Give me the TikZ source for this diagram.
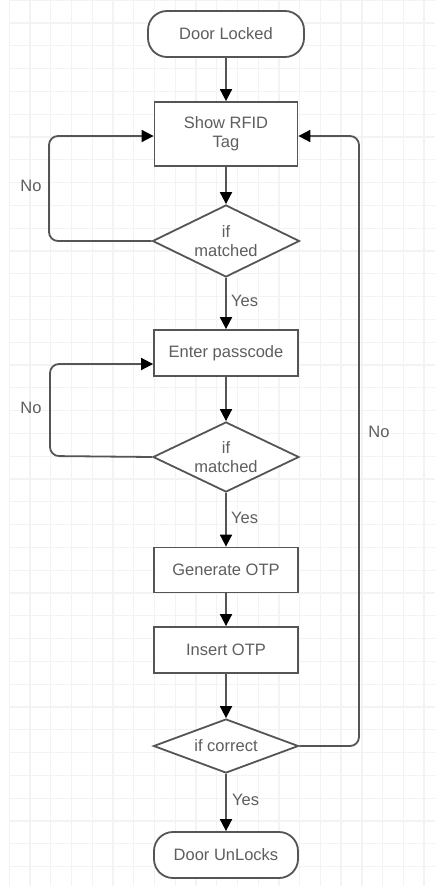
\documentclass[tikz,border=0pt]{standalone}
\usepackage{fontspec}
\setmainfont{Liberation Sans}
\usetikzlibrary{shapes.geometric,arrows.meta}
\definecolor{gridc}{HTML}{F3F3F3}
\definecolor{linec}{HTML}{555555}
\definecolor{textc}{HTML}{5E5E5E}
\tikzset{
  gridline/.style={draw=gridc, line width=1.3pt},
  base/.style={draw=linec, line width=1.8pt, fill=white, text=textc, inner sep=0pt,
    font=\fontsize{16.5}{19}\selectfont, align=center},
  terminal/.style={base, rectangle, rounded corners=19pt, minimum width=150pt, minimum height=46pt},
  process/.style={base, rectangle, minimum width=144pt, minimum height=46pt},
  decision/.style={base, diamond, shape aspect=2.5},
  conn/.style={draw=linec, line width=1.8pt, rounded corners=9pt,
    -{Triangle[length=12pt,width=12pt,color=black]}},
  lbl/.style={text=textc, font=\fontsize{16.5}{19}\selectfont, inner sep=0pt}
}
\begin{document}
\begin{tikzpicture}[x=1pt,y=-1pt]
\useasboundingbox (0,0) rectangle (435,886);
\fill[white] (0,0) rectangle (435,886);
\foreach \i in {0,...,20} \draw[gridline] ({9.3+20.74*\i},0) -- ({9.3+20.74*\i},886);
\foreach \j in {0,...,38} \draw[gridline] (9,{0.2+22.8*\j}) -- (435,{0.2+22.8*\j});

\node[terminal, minimum width=156pt] (lock) at (226,34) {Door Locked};
\node[process, minimum width=143pt, minimum height=64pt] (rfid) at (226,134) {Show RFID\\Tag};
\node[decision, minimum width=147pt, minimum height=72pt] (d1) at (226,241) {if\\matched};
\node[process] (pass) at (226,353) {Enter passcode};
\node[decision, minimum width=146pt, minimum height=70pt] (d2) at (226,457) {if\\matched};
\node[process, minimum height=45pt] (gen) at (226,570) {Generate OTP};
\node[process] (ins) at (226,650) {Insert OTP};
\node[decision, minimum width=145pt, minimum height=54pt] (d3) at (226,746) {if correct};
\node[terminal, minimum width=144pt] (unlock) at (226,855) {Door UnLocks};

\coordinate (c1a) at (49,241);
\coordinate (c1b) at (49,136);
\coordinate (c2a) at (50,456);
\coordinate (c2b) at (50,364);
\coordinate (c3a) at (359,746);
\coordinate (c3b) at (359,136);

\draw[conn] (lock) -- (rfid);
\draw[conn] (rfid) -- (d1);
\draw[conn] (d1) -- (pass);
\draw[conn] (d1.west) -- (c1a) -- (c1b) -- (rfid.west |- c1b);
\draw[conn] (pass) -- (d2);
\draw[conn] (d2.west) -- (c2a) -- (c2b) -- (pass.west |- c2b);
\draw[conn] (d2) -- (gen);
\draw[conn] (gen) -- (ins);
\draw[conn] (ins) -- (d3);
\draw[conn] (d3) -- (unlock);
\draw[conn] (d3.east) -- (c3a) -- (c3b) -- (rfid.east |- c3b);

\node[lbl, anchor=west] (y1) at (231,301) {Yes};
\node[lbl, anchor=west] (y2) at (231,518) {Yes};
\node[lbl, anchor=west] (y3) at (232,800) {Yes};
\node[lbl] (n1) at (31,186) {No};
\node[lbl] (n2) at (31,408) {No};
\node[lbl] (n3) at (379,432) {No};
\end{tikzpicture}
\end{document}
